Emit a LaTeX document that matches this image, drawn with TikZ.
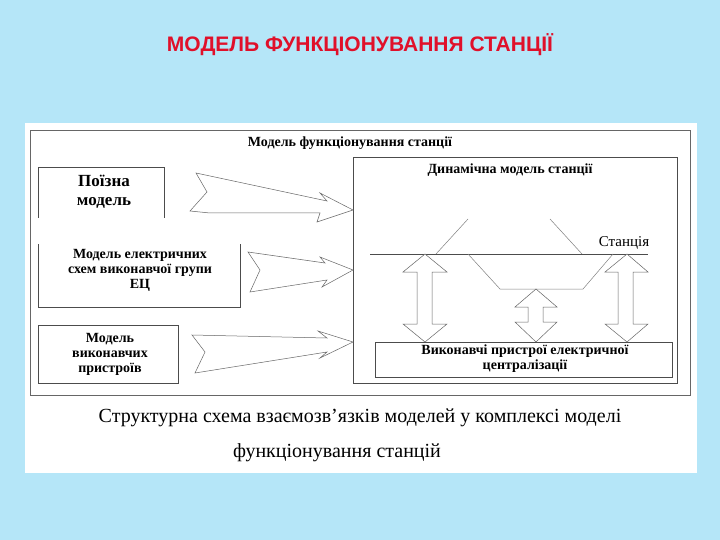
\documentclass[tikz,border=0pt]{standalone}
\usepackage{fontspec}
\setmainfont{Liberation Serif}
\newfontfamily\titlefont{Liberation Sans}
\definecolor{bg}{HTML}{B5E6F8}
\definecolor{ttl}{HTML}{E0102A}
\begin{document}
\begin{tikzpicture}[x=1pt,y=-1pt,
  ln/.style={draw=black!70,line width=0.6pt},
  lbl/.style={font=\bfseries\fontsize{14}{15}\selectfont,align=center,inner sep=0},
  hol/.style={draw=black!60,line width=0.5pt,fill=white}]
\useasboundingbox (0,0) rectangle (720,540);
\fill[bg] (0,0) rectangle (720,540);
\node[font=\titlefont\bfseries\fontsize{21}{22}\selectfont,text=ttl] (title) at (360,45) {МОДЕЛЬ ФУНКЦІОНУВАННЯ СТАНЦІЇ};
\fill[white] (25,123) rectangle (697,473);
\draw[ln,draw=black!60] (30,130) rectangle (690,395);
\node[lbl] (hdr) at (350,143) {Модель функціонування станції};
% left boxes
\draw[ln] (38,218) -- (38,167) -- (164,167) -- (164,218);
\node[lbl,font=\bfseries\fontsize{17}{19}\selectfont] (b1) at (104,192) {Поїзна\\модель};
\draw[ln] (38,244) -- (38,307) -- (240,307) -- (240,244);
\node[lbl] (b2) at (140,270) {Модель електричних\\схем виконавчої групи\\ЕЦ};
\draw[ln] (38,325) rectangle (178,383);
\node[lbl] (b3) at (110,354) {Модель\\виконавчих\\пристроїв};
% dynamic box
\draw[ln] (353,157) rectangle (677,383);
\node[lbl] (dyn) at (510,170) {Динамічна модель станції};
\draw[ln,line width=0.5pt] (370,254) -- (648,254);
\node[font=\fontsize{15}{16}\selectfont] (st) at (624,243) {Станція};
\draw[ln,draw=black!50,line width=0.5pt] (436,254) -- (468,219);
\draw[ln,draw=black!50,line width=0.5pt] (550,219) -- (582,254);
\draw[ln,draw=black!50,line width=0.5pt] (468,254) -- (500,289) -- (583,289) -- (613,254);
\draw[ln] (375,342) rectangle (672,377);
\node[lbl] (exe) at (525,359) {Виконавчі пристрої електричної\\централізації};
% double arrows
\draw[hol] (425,254) -- (447,272) -- (432,272) -- (432,324) -- (447,324) -- (425,342) -- (403,324) -- (417,324) -- (417,272) -- (403,272) -- cycle;
\draw[hol] (536,289) -- (557,307) -- (543,307) -- (543,322) -- (557,322) -- (536,342) -- (515,322) -- (528,322) -- (528,307) -- (515,307) -- cycle;
\draw[hol] (627,254) -- (648,272) -- (633,272) -- (633,324) -- (648,324) -- (627,342) -- (605,324) -- (618,324) -- (618,272) -- (605,272) -- cycle;
% big hollow arrows
\draw[hol] (196,173) -- (327,201) -- (320,193) -- (353,210) -- (317,222) -- (320,213) -- (210,213) -- (190,211) -- (207,192) -- cycle;
\draw[hol] (248,252) -- (325,263) -- (320,257) -- (353,270) -- (322,287) -- (327,280) -- (250,292) -- (260,270) -- cycle;
\draw[hol] (192,335) -- (327,338) -- (318,331) -- (353,342) -- (320,358) -- (327,352) -- (195,373) -- (205,352) -- cycle;
% caption
\node[font=\fontsize{20}{22}\selectfont] (cap1) at (360,418) {Структурна схема взаємозв’язків моделей у комплексі моделі};
\node[font=\fontsize{20}{22}\selectfont] (cap2) at (337,453) {функціонування станцій};
\end{tikzpicture}
\end{document}
